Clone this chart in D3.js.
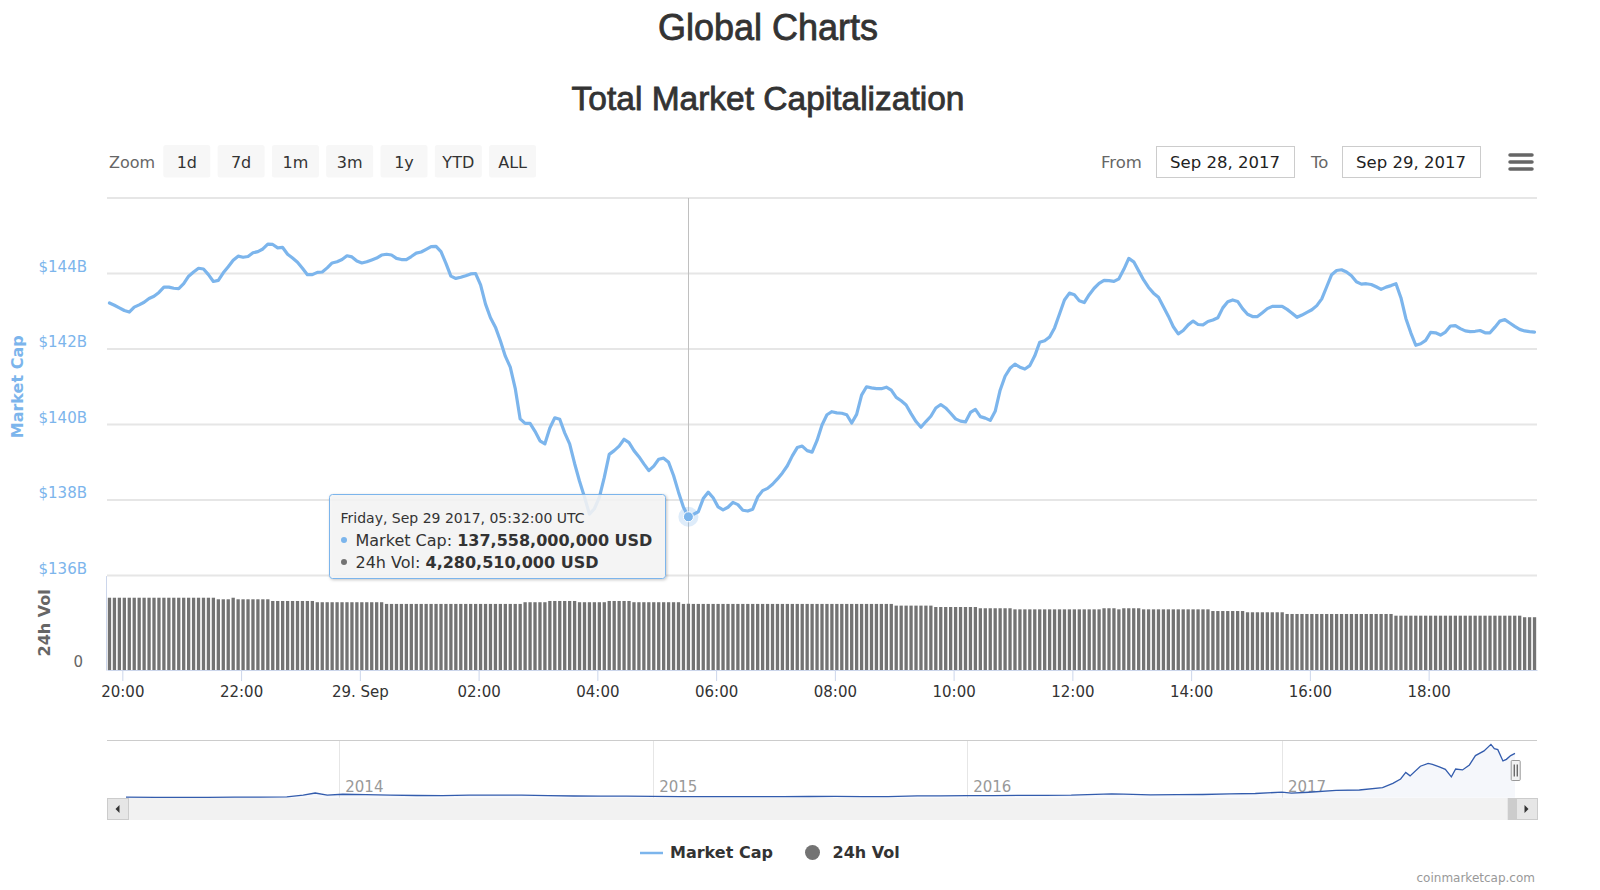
<!DOCTYPE html>
<html>
<head>
<meta charset="utf-8">
<script src="https://cdn.jsdelivr.net/npm/d3@7"></script>
<style>
  body { margin: 0; background: #fff; }
  svg text { font-family: "DejaVu Sans", sans-serif; }
  .title { font-family: "Liberation Sans", Arial, sans-serif; fill: #333; stroke: #333; stroke-width: 0.8px; }
</style>
</head>
<body>
<svg id="chart" width="1600" height="890"></svg>
<script>
// ---------------------------------------------------------------------------
// DATA
// ---------------------------------------------------------------------------
// market cap in billions USD, one value every 5 minutes from Sep 28 2017 19:47 UTC
const capValues = [
  143.22, 143.16, 143.09, 143.02, 142.98, 143.11, 143.17, 143.24, 143.34, 143.40, 143.50, 143.64,
  143.64, 143.61, 143.60, 143.73, 143.93, 144.04, 144.14, 144.12, 143.97, 143.79, 143.82, 144.02,
  144.18, 144.35, 144.46, 144.43, 144.45, 144.55, 144.58, 144.65, 144.78, 144.77, 144.68, 144.69,
  144.51, 144.41, 144.30, 144.14, 143.97, 143.97, 144.03, 144.04, 144.15, 144.28, 144.31, 144.37,
  144.47, 144.44, 144.33, 144.28, 144.31, 144.36, 144.41, 144.49, 144.51, 144.49, 144.40, 144.37,
  144.37, 144.45, 144.54, 144.57, 144.64, 144.71, 144.72, 144.58, 144.27, 143.93, 143.87, 143.90,
  143.94, 143.99, 144.00, 143.70, 143.19, 142.83, 142.58, 142.22, 141.81, 141.52, 140.96, 140.15,
  140.03, 140.03, 139.82, 139.57, 139.49, 139.91, 140.18, 140.14, 139.78, 139.49, 138.97, 138.50,
  138.08, 137.63, 137.77, 138.07, 138.60, 139.21, 139.31, 139.43, 139.61, 139.52, 139.31, 139.15,
  138.96, 138.78, 138.90, 139.08, 139.11, 139.00, 138.65, 138.21, 137.81, 137.558, 137.62, 137.69,
  138.04, 138.21, 138.06, 137.82, 137.74, 137.81, 137.94, 137.88, 137.73, 137.71, 137.76, 138.08,
  138.25, 138.31, 138.42, 138.56, 138.72, 138.91, 139.17, 139.39, 139.43, 139.31, 139.27, 139.58,
  139.99, 140.26, 140.34, 140.31, 140.30, 140.26, 140.04, 140.27, 140.78, 141.00, 140.97, 140.95,
  140.95, 140.99, 140.91, 140.72, 140.63, 140.52, 140.29, 140.08, 139.93, 140.08, 140.22, 140.44,
  140.53, 140.44, 140.30, 140.15, 140.09, 140.07, 140.32, 140.40, 140.21, 140.17, 140.11, 140.35,
  140.91, 141.28, 141.49, 141.60, 141.52, 141.47, 141.56, 141.82, 142.18, 142.22, 142.32, 142.56,
  142.93, 143.30, 143.48, 143.44, 143.28, 143.23, 143.44, 143.61, 143.74, 143.82, 143.81, 143.79,
  143.86, 144.11, 144.40, 144.31, 144.07, 143.83, 143.63, 143.48, 143.37, 143.12, 142.87, 142.59,
  142.40, 142.49, 142.64, 142.74, 142.65, 142.64, 142.73, 142.77, 142.83, 143.09, 143.25, 143.30,
  143.26, 143.07, 142.92, 142.86, 142.86, 142.96, 143.07, 143.13, 143.13, 143.13, 143.05, 142.95,
  142.84, 142.90, 142.97, 143.04, 143.15, 143.33, 143.65, 143.97, 144.08, 144.10, 144.04, 143.94,
  143.78, 143.72, 143.73, 143.71, 143.65, 143.58, 143.64, 143.68, 143.73, 143.36, 142.81, 142.43,
  142.10, 142.14, 142.23, 142.44, 142.43, 142.37, 142.45, 142.61, 142.62, 142.54, 142.48, 142.46,
  142.47, 142.49, 142.43, 142.43, 142.58, 142.74, 142.78, 142.69, 142.60, 142.52, 142.48, 142.46,
  142.45
];

// 24h volume in billions USD, same timestamps
const volValues = [
  4.67, 4.67, 4.67, 4.67, 4.67, 4.67, 4.67, 4.67, 4.67, 4.67, 4.67, 4.67,
  4.67, 4.67, 4.67, 4.67, 4.67, 4.67, 4.67, 4.67, 4.67, 4.67, 4.57, 4.57,
  4.57, 4.67, 4.57, 4.57, 4.57, 4.57, 4.57, 4.57, 4.57, 4.46, 4.46, 4.46,
  4.46, 4.46, 4.46, 4.46, 4.46, 4.46, 4.38, 4.38, 4.38, 4.38, 4.38, 4.38,
  4.38, 4.38, 4.38, 4.38, 4.38, 4.38, 4.38, 4.38, 4.27, 4.27, 4.27, 4.27,
  4.27, 4.27, 4.27, 4.27, 4.27, 4.27, 4.27, 4.27, 4.27, 4.27, 4.27, 4.27,
  4.27, 4.27, 4.27, 4.27, 4.27, 4.27, 4.27, 4.27, 4.27, 4.27, 4.27, 4.27,
  4.38, 4.38, 4.38, 4.38, 4.38, 4.46, 4.46, 4.46, 4.46, 4.46, 4.46, 4.38,
  4.38, 4.38, 4.38, 4.38, 4.38, 4.46, 4.46, 4.46, 4.46, 4.46, 4.38, 4.38,
  4.38, 4.38, 4.38, 4.38, 4.38, 4.38, 4.38, 4.38, 4.27, 4.28051, 4.27, 4.27,
  4.27, 4.27, 4.27, 4.27, 4.27, 4.27, 4.27, 4.27, 4.27, 4.27, 4.27, 4.27,
  4.27, 4.27, 4.27, 4.27, 4.27, 4.27, 4.27, 4.27, 4.27, 4.27, 4.27, 4.27,
  4.27, 4.27, 4.27, 4.27, 4.27, 4.27, 4.27, 4.27, 4.27, 4.27, 4.27, 4.27,
  4.27, 4.27, 4.27, 4.16, 4.16, 4.16, 4.16, 4.16, 4.16, 4.16, 4.16, 4.07,
  4.07, 4.07, 4.07, 4.07, 4.07, 4.07, 4.07, 4.07, 3.99, 3.99, 3.99, 3.99,
  3.99, 3.99, 3.99, 3.92, 3.92, 3.92, 3.92, 3.92, 3.92, 3.92, 3.92, 3.92,
  3.92, 3.92, 3.92, 3.92, 3.92, 3.92, 3.92, 3.92, 3.92, 3.99, 3.99, 3.99,
  3.92, 3.99, 3.99, 3.99, 3.99, 3.92, 3.92, 3.92, 3.92, 3.92, 3.92, 3.92,
  3.92, 3.92, 3.92, 3.92, 3.92, 3.92, 3.92, 3.81, 3.81, 3.81, 3.81, 3.81,
  3.81, 3.81, 3.73, 3.73, 3.73, 3.73, 3.73, 3.73, 3.73, 3.73, 3.62, 3.62,
  3.62, 3.62, 3.62, 3.62, 3.62, 3.62, 3.62, 3.62, 3.62, 3.62, 3.62, 3.62,
  3.62, 3.62, 3.62, 3.62, 3.62, 3.62, 3.62, 3.62, 3.51, 3.51, 3.51, 3.51,
  3.51, 3.51, 3.51, 3.51, 3.51, 3.51, 3.51, 3.51, 3.51, 3.51, 3.51, 3.51,
  3.51, 3.51, 3.51, 3.51, 3.51, 3.51, 3.51, 3.51, 3.51, 3.51, 3.41, 3.41,
  3.41
];

const startTime = Date.UTC(2017, 8, 28, 19, 47);
const stepMinutes = 5;
const hoverTime = Date.UTC(2017, 8, 29, 5, 32);

const capTicks = [136, 138, 140, 142, 144, 146];
const volTicks = [0];
const volAxisMax = 6.1;

// navigator: whole history, billions USD
const navDates = [
  '2013-04-28', '2013-06-01', '2013-07-01', '2013-08-01', '2013-09-01', '2013-10-01',
  '2013-11-01', '2013-11-20', '2013-12-04', '2013-12-18', '2014-01-05', '2014-02-01',
  '2014-03-01', '2014-04-01', '2014-05-01', '2014-06-01', '2014-07-01', '2014-08-01',
  '2014-09-01', '2014-10-01', '2014-11-01', '2014-12-01', '2015-01-01', '2015-02-01',
  '2015-03-01', '2015-04-01', '2015-05-01', '2015-06-01', '2015-07-01', '2015-08-01',
  '2015-09-01', '2015-10-01', '2015-11-04', '2015-12-01', '2016-01-01', '2016-02-01',
  '2016-03-01', '2016-04-01', '2016-05-01', '2016-06-17', '2016-07-01', '2016-08-01',
  '2016-09-01', '2016-10-01', '2016-11-01', '2016-12-01', '2017-01-01', '2017-01-12',
  '2017-02-01', '2017-03-05', '2017-04-01', '2017-04-28', '2017-05-10', '2017-05-19',
  '2017-05-25', '2017-05-30', '2017-06-11', '2017-06-20', '2017-06-25', '2017-07-03',
  '2017-07-10', '2017-07-17', '2017-07-22', '2017-07-30', '2017-08-07', '2017-08-14',
  '2017-08-24', '2017-09-01', '2017-09-05', '2017-09-09', '2017-09-15', '2017-09-19',
  '2017-09-24', '2017-09-29'
];
const navValues = [
  1.6, 1.2, 1.0, 1.2, 1.6, 1.7,
  2.6, 8, 15, 8, 11, 10,
  8, 7, 6.5, 8.5, 8.5, 8,
  6.5, 5.5, 5, 5, 4.3, 3.5,
  3.7, 3.4, 3.4, 3.3, 3.8, 4.1,
  3.6, 3.5, 6, 5.7, 6.9, 6.6,
  7.2, 7.3, 8.2, 12.5, 11.5, 9.3,
  10, 10.3, 12, 13.5, 17.7, 14.5,
  17.5, 23.7, 24.7, 32, 46, 60,
  81, 70, 101, 110, 107, 99,
  91, 67, 92, 89, 105, 135,
  150, 171, 157, 154, 118, 123,
  135, 142
];
const navAxisMax = 185;

const zoomButtons = ['1d', '7d', '1m', '3m', '1y', 'YTD', 'ALL'];
const fromLabel = 'Sep 28, 2017';
const toLabel = 'Sep 29, 2017';

// ---------------------------------------------------------------------------
// SETUP
// ---------------------------------------------------------------------------
const plot = { left: 107, right: 1537, top: 198, capBottom: 575.6, bottom: 670 };
const nav = { left: 126, right: 1515, top: 740, bottom: 797.7 };
const capColor = '#7cb5ec';
const volColor = '#737373';

const svg = d3.select('#chart');
const times = capValues.map((v, i) => new Date(startTime + i * stepMinutes * 60000));
const halfStep = stepMinutes * 30000;

const x = d3.scaleUtc()
  .domain([new Date(startTime - halfStep), new Date(+times[times.length - 1] + halfStep)])
  .range([plot.left, plot.right]);
const yCap = d3.scaleLinear()
  .domain([capTicks[0], capTicks[capTicks.length - 1]])
  .range([plot.capBottom, plot.top]);
const yVol = d3.scaleLinear()
  .domain([0, volAxisMax])
  .range([plot.bottom, plot.capBottom]);

// TITLES
svg.append('text').attr('class', 'title')
  .attr('x', 768).attr('y', 40).attr('text-anchor', 'middle')
  .style('font-size', '36px')
  .text('Global Charts');
svg.append('text').attr('class', 'title')
  .attr('x', 768).attr('y', 110).attr('text-anchor', 'middle')
  .style('font-size', '33.5px')
  .text('Total Market Capitalization');

// RANGE SELECTOR
svg.append('text')
  .attr('x', 109).attr('y', 168)
  .style('font-size', '16px').style('fill', '#666')
  .text('Zoom');
const btn = svg.append('g').selectAll('g')
  .data(zoomButtons).enter()
  .append('g')
  .attr('transform', (d, i) => `translate(${163.3 + i * 54.3}, 145)`);
btn.append('rect')
  .attr('width', 47).attr('height', 32.5).attr('rx', 2.5)
  .attr('fill', '#f7f7f7');
btn.append('text')
  .attr('x', 23.5).attr('y', 23).attr('text-anchor', 'middle')
  .style('font-size', '16px').style('fill', '#333')
  .text(d => d);

svg.append('text')
  .attr('x', 1101).attr('y', 168)
  .style('font-size', '16.5px').style('fill', '#666')
  .text('From');
svg.append('text')
  .attr('x', 1311).attr('y', 168)
  .style('font-size', '16.5px').style('fill', '#666')
  .text('To');
[[1156, fromLabel], [1342, toLabel]].forEach(([bx, label]) => {
  svg.append('rect')
    .attr('x', bx + 0.5).attr('y', 146.5).attr('width', 138).attr('height', 31)
    .attr('fill', '#fff').attr('stroke', '#cccccc');
  svg.append('text')
    .attr('x', bx + 69).attr('y', 168).attr('text-anchor', 'middle')
    .style('font-size', '16.5px').style('fill', '#222')
    .text(label);
});

// hamburger menu
[155, 162, 169].forEach(yy => {
  svg.append('line')
    .attr('x1', 1510).attr('x2', 1532).attr('y1', yy).attr('y2', yy)
    .attr('stroke', '#666').attr('stroke-width', 3.5).attr('stroke-linecap', 'round');
});

// GRID + Y AXIS (MARKET CAP)
const grid = svg.append('g');
grid.selectAll('line')
  .data(capTicks).enter()
  .append('line')
  .attr('x1', plot.left).attr('x2', plot.right)
  .attr('y1', d => yCap(d)).attr('y2', d => yCap(d))
  .attr('stroke', '#e6e6e6').attr('stroke-width', 2);

const capAxis = svg.append('g')
  .attr('transform', `translate(${plot.left}, 0)`)
  .call(d3.axisLeft(yCap)
    .tickValues(capTicks.slice(0, -1))
    .tickSize(0)
    .tickPadding(20)
    .tickFormat(d => `$${d}B`));
capAxis.select('.domain').remove();
capAxis.selectAll('text')
  .attr('dy', -2.5)
  .style('font-size', '15px').style('fill', capColor)
  .style('font-family', '"DejaVu Sans", sans-serif');

svg.append('text')
  .attr('transform', `translate(23, ${(plot.top + plot.capBottom) / 2}) rotate(-90)`)
  .attr('text-anchor', 'middle')
  .style('font-size', '16px').style('font-weight', 'bold').style('fill', capColor)
  .text('Market Cap');

// VOLUME AXIS
const volAxis = svg.append('g')
  .attr('transform', 'translate(106, 0)')
  .call(d3.axisLeft(yVol)
    .tickValues(volTicks)
    .tickSize(0)
    .tickPadding(23)
    .tickFormat(d3.format('d')));
volAxis.select('.domain').attr('stroke', '#ccd6eb');
volAxis.selectAll('text')
  .attr('dy', -3.5)
  .style('font-size', '15px').style('fill', '#666')
  .style('font-family', '"DejaVu Sans", sans-serif');

svg.append('text')
  .attr('transform', `translate(50, ${(plot.capBottom + plot.bottom) / 2}) rotate(-90)`)
  .attr('text-anchor', 'middle')
  .style('font-size', '16px').style('font-weight', 'bold').style('fill', '#666')
  .text('24h Vol');

// CROSSHAIR
const hoverIndex = times.findIndex(t => +t === hoverTime);
const hx = x(times[hoverIndex]);
svg.append('line')
  .attr('x1', Math.round(hx) + 0.5).attr('x2', Math.round(hx) + 0.5)
  .attr('y1', plot.top).attr('y2', plot.bottom)
  .attr('stroke', '#c0c0c0').attr('stroke-width', 1);

// VOLUME BARS
const barWidth = 3.3;
svg.append('g').selectAll('rect')
  .data(volValues).enter()
  .append('rect')
  .attr('x', (d, i) => x(times[i]) - barWidth / 2)
  .attr('width', barWidth)
  .attr('y', d => yVol(d))
  .attr('height', d => yVol(0) - yVol(d))
  .attr('fill', volColor);

// X AXIS
const fmtHour = d3.utcFormat('%H:%M');
const fmtDay = d3.utcFormat('%-d. %b');
const xAxis = svg.append('g')
  .attr('transform', `translate(0, ${plot.bottom})`)
  .call(d3.axisBottom(x)
    .ticks(d3.utcHour.every(2))
    .tickSize(11)
    .tickSizeOuter(0)
    .tickFormat(d => (d.getUTCHours() === 0 ? fmtDay(d) : fmtHour(d))));
xAxis.select('.domain').attr('stroke', '#ccd6eb');
xAxis.selectAll('.tick line').attr('stroke', '#ccd6eb');
xAxis.selectAll('text')
  .attr('y', 16)
  .style('font-size', '15px').style('fill', '#333')
  .style('font-family', '"DejaVu Sans", sans-serif');

// MARKET CAP LINE
svg.append('defs').append('clipPath').attr('id', 'plotClip')
  .append('rect')
  .attr('x', plot.left).attr('y', plot.top - 10)
  .attr('width', plot.right - plot.left).attr('height', plot.capBottom - plot.top + 10);

const capLine = d3.line()
  .x((d, i) => x(times[i]))
  .y(d => yCap(d));
svg.append('path')
  .datum(capValues)
  .attr('clip-path', 'url(#plotClip)')
  .attr('d', capLine)
  .attr('fill', 'none')
  .attr('stroke', capColor)
  .attr('stroke-width', 3.2)
  .attr('stroke-linejoin', 'round')
  .attr('stroke-linecap', 'round');

// hover marker
const hy = yCap(capValues[hoverIndex]);
svg.append('circle')
  .attr('cx', hx).attr('cy', hy).attr('r', 10)
  .attr('fill', capColor).attr('fill-opacity', 0.25);
svg.append('circle')
  .attr('cx', hx).attr('cy', hy).attr('r', 5)
  .attr('fill', capColor).attr('stroke', '#fff').attr('stroke-width', 1);

// NAVIGATOR
const parseDay = d3.utcParse('%Y-%m-%d');
const navTimes = navDates.map(parseDay);
const xNav = d3.scaleUtc()
  .domain([navTimes[0], navTimes[navTimes.length - 1]])
  .range([nav.left, nav.right]);
const yNav = d3.scaleLinear()
  .domain([0, navAxisMax])
  .range([nav.bottom, nav.top]);

svg.append('line')
  .attr('x1', plot.left).attr('x2', plot.right)
  .attr('y1', nav.top + 0.5).attr('y2', nav.top + 0.5)
  .attr('stroke', '#cccccc');

const navYears = xNav.ticks(d3.utcYear.every(1));
svg.append('g').selectAll('line')
  .data(navYears).enter()
  .append('line')
  .attr('x1', d => Math.round(xNav(d)) + 0.5).attr('x2', d => Math.round(xNav(d)) + 0.5)
  .attr('y1', nav.top + 1).attr('y2', nav.bottom)
  .attr('stroke', '#e6e6e6');
svg.append('g').selectAll('text')
  .data(navYears).enter()
  .append('text')
  .attr('x', d => xNav(d) + 6).attr('y', 792)
  .style('font-size', '15px').style('fill', '#999')
  .text(d => d3.utcFormat('%Y')(d));

svg.append('path')
  .datum(navValues)
  .attr('d', d3.area()
    .x((d, i) => xNav(navTimes[i]))
    .y0(nav.bottom)
    .y1(d => yNav(d)))
  .attr('fill', '#335cad').attr('fill-opacity', 0.05);
svg.append('path')
  .datum(navValues)
  .attr('d', d3.line()
    .x((d, i) => xNav(navTimes[i]))
    .y(d => yNav(d)))
  .attr('fill', 'none').attr('stroke', '#335cad').attr('stroke-width', 1.3);

// handle at the selected range
const handleX = xNav(times[times.length - 1]);
svg.append('rect')
  .attr('x', handleX - 4.5).attr('y', 760.5).attr('width', 9).attr('height', 20).attr('rx', 1)
  .attr('fill', '#f2f2f2').attr('stroke', '#999');
[-1.5, 1.5].forEach(dx => {
  svg.append('line')
    .attr('x1', handleX + dx).attr('x2', handleX + dx)
    .attr('y1', 764.5).attr('y2', 776.5)
    .attr('stroke', '#333');
});

// SCROLLBAR
svg.append('rect')
  .attr('x', plot.left).attr('y', 798).attr('width', plot.right - plot.left).attr('height', 22)
  .attr('fill', '#f2f2f2');
svg.append('rect')
  .attr('x', handleX - 8).attr('y', 798).attr('width', 9).attr('height', 22)
  .attr('fill', '#cccccc');
[[plot.left, -1], [plot.right - 21, 1]].forEach(([bx, dir]) => {
  svg.append('rect')
    .attr('x', bx + 0.5).attr('y', 798.5).attr('width', 21).attr('height', 21)
    .attr('fill', '#e6e6e6').attr('stroke', '#cccccc');
  const cx = bx + 10.5;
  svg.append('path')
    .attr('d', `M${cx - 2 * dir},805 L${cx + 2 * dir},809 L${cx - 2 * dir},813 Z`)
    .attr('fill', '#333');
});

// LEGEND
svg.append('line')
  .attr('x1', 640).attr('x2', 663).attr('y1', 853).attr('y2', 853)
  .attr('stroke', capColor).attr('stroke-width', 2.5);
svg.append('text')
  .attr('x', 670).attr('y', 858)
  .style('font-size', '16px').style('font-weight', 'bold').style('fill', '#333')
  .text('Market Cap');
svg.append('circle')
  .attr('cx', 812.5).attr('cy', 852.5).attr('r', 7.5)
  .attr('fill', volColor);
svg.append('text')
  .attr('x', 832.5).attr('y', 858)
  .style('font-size', '16px').style('font-weight', 'bold').style('fill', '#333')
  .text('24h Vol');

// CREDIT
svg.append('text')
  .attr('x', 1535).attr('y', 882).attr('text-anchor', 'end')
  .style('font-size', '12px').style('fill', '#999')
  .text('coinmarketcap.com');

// TOOLTIP
const fmtUSD = d3.format(',');
const fmtHeader = d3.utcFormat('%A, %b %-d %Y, %H:%M:%S UTC');
const defs = svg.select('defs');
const shadow = defs.append('filter').attr('id', 'tipShadow')
  .attr('x', '-5%').attr('y', '-10%').attr('width', '115%').attr('height', '130%');
shadow.append('feDropShadow')
  .attr('dx', 1).attr('dy', 1).attr('stdDeviation', 1.5)
  .attr('flood-color', '#000').attr('flood-opacity', 0.25);

const tip = svg.append('g').attr('transform', 'translate(329.5, 494.5)');
tip.append('rect')
  .attr('width', 336).attr('height', 84).attr('rx', 3)
  .attr('fill', 'rgba(247,247,247,0.85)')
  .attr('stroke', capColor).attr('stroke-width', 1)
  .attr('filter', 'url(#tipShadow)');
tip.append('text')
  .attr('x', 11).attr('y', 28.5)
  .style('font-size', '14px').style('fill', '#333')
  .text(fmtHeader(times[hoverIndex]));

const tipRows = [
  { color: capColor, name: 'Market Cap', value: capValues[hoverIndex] },
  { color: volColor, name: '24h Vol', value: volValues[hoverIndex] }
];
tipRows.forEach((r, k) => {
  const ty = 51 + k * 22;
  tip.append('circle')
    .attr('cx', 14.5).attr('cy', ty - 5.5).attr('r', 3)
    .attr('fill', r.color);
  const t = tip.append('text')
    .attr('x', 26).attr('y', ty)
    .style('font-size', '16px').style('fill', '#333');
  t.append('tspan').text(`${r.name}: `);
  t.append('tspan').style('font-weight', 'bold')
    .text(`${fmtUSD(Math.round(r.value * 1e9))} USD`);
});
</script>
</body>
</html>
